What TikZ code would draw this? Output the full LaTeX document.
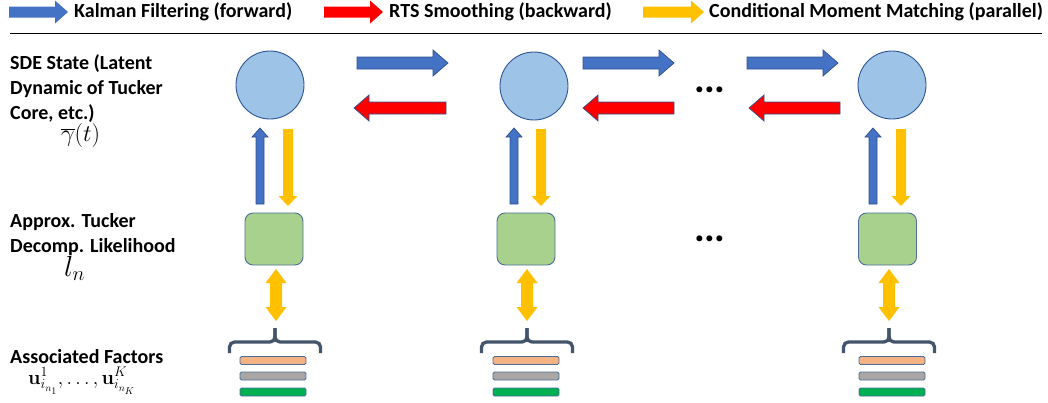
\RequirePackage{fix-cm}
\documentclass[tikz,border=0pt]{standalone}
\usepackage[no-math]{fontspec}
\setmainfont{Carlito}
\usetikzlibrary{calc}
\definecolor{kblue}{HTML}{4472C4}
\definecolor{kblueline}{HTML}{2F528F}
\definecolor{rred}{HTML}{FF0000}
\definecolor{myellow}{HTML}{FFC000}
\definecolor{circfill}{HTML}{9DC3E6}
\definecolor{circline}{HTML}{2F5597}
\definecolor{sqfill}{HTML}{A9D18E}
\definecolor{sqline}{HTML}{4E6E9A}
\definecolor{barorange}{HTML}{F4B183}
\definecolor{bargray}{HTML}{AAA6A6}
\definecolor{bargreen}{HTML}{00B050}
\definecolor{braceline}{HTML}{44546A}
% #1 style, #2 from, #3 to, #4 half shaft, #5 half head, #6 head length
\newcommand{\fatarrow}[6]{%
  \coordinate (fa-n) at ($(#3)!#6!(#2)$);
  \path[#1] ($(#2)!#4!90:(#3)$) -- ($(fa-n)!#4!-90:(#2)$) -- ($(fa-n)!#5!-90:(#2)$) -- (#3)
    -- ($(fa-n)!#5!90:(#2)$) -- ($(fa-n)!#4!90:(#2)$) -- ($(#2)!#4!-90:(#3)$) -- cycle;}
\newcommand{\dblarrow}[6]{%
  \coordinate (da-n1) at ($(#2)!#6!(#3)$);
  \coordinate (da-n2) at ($(#3)!#6!(#2)$);
  \path[#1] (#2) -- ($(da-n1)!#5!90:(#3)$) -- ($(da-n1)!#4!90:(#3)$) -- ($(da-n2)!#4!-90:(#2)$)
    -- ($(da-n2)!#5!-90:(#2)$) -- (#3) -- ($(da-n2)!#5!90:(#2)$) -- ($(da-n2)!#4!90:(#2)$)
    -- ($(da-n1)!#4!-90:(#3)$) -- ($(da-n1)!#5!-90:(#3)$) -- cycle;}
\tikzset{
  bluearr/.style={fill=kblue, draw=kblueline, line width=0.7pt},
  redarr/.style={fill=rred, draw=kblueline, line width=0.7pt},
  yelarr/.style={fill=myellow},
  circ/.style={circle, minimum size=68pt, inner sep=0, fill=circfill, draw=circline, line width=0.9pt},
  sq/.style={rectangle, rounded corners=8pt, minimum width=58pt, minimum height=52pt, inner sep=0, fill=sqfill, draw=sqline, line width=0.9pt},
  fbar/.style={rectangle, rounded corners=1.5pt, minimum width=66pt, minimum height=8pt, inner sep=0, draw=sqline, line width=0.8pt},
  brace/.style={draw=braceline, line width=3.3pt, rounded corners=5pt},
  lbl/.style={font=\bfseries\fontsize{20}{25}\selectfont, align=left, inner sep=0},
  leg/.style={font=\bfseries\fontsize{20}{22}\selectfont, inner sep=0, anchor=base west},
  dots/.style={font=\bfseries\fontsize{40}{40}\selectfont, inner sep=0}
}
\begin{document}
\begin{tikzpicture}[x=1pt,y=-1pt]
\useasboundingbox (0,0) rectangle (1048,402);
% legend
\coordinate (l1a) at (9,12); \coordinate (l1b) at (68,12);
\coordinate (l2a) at (324,12); \coordinate (l2b) at (383,12);
\coordinate (l3a) at (643,12); \coordinate (l3b) at (704,12);
\fatarrow{fill=kblue}{l1a}{l1b}{5.5pt}{11.5pt}{13pt}
\fatarrow{fill=rred}{l2a}{l2b}{5.5pt}{11.5pt}{13pt}
\fatarrow{fill=myellow}{l3a}{l3b}{5.5pt}{11.5pt}{13pt}
\node[leg] (t1) at (74,17.5) {Kalman Filtering (forward)};
\node[leg] (t2) at (389,17.5) {RTS Smoothing (backward)};
\node[leg] (t3) at (709,17.5) {Conditional Moment Matching (parallel)};
\coordinate (r1) at (10,33.5); \coordinate (r2) at (1042,33.5);
\draw[line width=1.5pt] (r1) -- (r2);
% left labels
\node[lbl, anchor=base west] (lab1) at (10,119) {SDE State (Latent\\Dynamic of Tucker\\Core, etc.)};
\node[inner sep=0, anchor=base west, font=\fontsize{24}{24}\selectfont] (m1) at (61,141) {$\overline{\gamma}(t)$};
\node[lbl, anchor=base west] (lab2) at (10,252) {Approx. Tucker\\Decomp. Likelihood};
\node[inner sep=0, anchor=base west, font=\fontsize{29}{29}\selectfont] (m2) at (64,276) {$l_n$};
\node[lbl, anchor=base west] (lab3) at (10,363) {Associated Factors};
\node[inner sep=0, anchor=base west, font=\fontsize{20}{20}\selectfont] (m3) at (28,384) {$\mathbf{u}^{1}_{i_{n_1}},\ldots,\mathbf{u}^{K}_{i_{n_K}}$};
% circles
\node[circ] (c1) at (270,85) {};
\node[circ] (c2) at (534,86) {};
\node[circ] (c3) at (892,85) {};
% squares
\node[sq] (s1) at (274,239) {};
\node[sq] (s2) at (526,239) {};
\node[sq] (s3) at (887.5,239) {};
% horizontal arrows
\coordinate (b1a) at (357,63); \coordinate (b1b) at (448,63);
\coordinate (b2a) at (583,63); \coordinate (b2b) at (674,63);
\coordinate (b3a) at (747,63); \coordinate (b3b) at (838,63);
\coordinate (q1a) at (446,108); \coordinate (q1b) at (354,108);
\coordinate (q2a) at (674,108); \coordinate (q2b) at (583,108);
\coordinate (q3a) at (840,108); \coordinate (q3b) at (749,108);
\fatarrow{bluearr}{b1a}{b1b}{6pt}{13pt}{15pt}
\fatarrow{bluearr}{b2a}{b2b}{6pt}{13pt}{15pt}
\fatarrow{bluearr}{b3a}{b3b}{6pt}{13pt}{15pt}
\fatarrow{redarr}{q1a}{q1b}{6pt}{13pt}{15pt}
\fatarrow{redarr}{q2a}{q2b}{6pt}{13pt}{15pt}
\fatarrow{redarr}{q3a}{q3b}{6pt}{13pt}{15pt}
% vertical arrows
\coordinate (u1a) at (260,204); \coordinate (u1b) at (260,128);
\coordinate (u2a) at (514,204); \coordinate (u2b) at (514,128);
\coordinate (u3a) at (873,204); \coordinate (u3b) at (873,128);
\coordinate (d1a) at (288,129); \coordinate (d1b) at (288,206);
\coordinate (d2a) at (541,129); \coordinate (d2b) at (541,206);
\coordinate (d3a) at (901,129); \coordinate (d3b) at (901,206);
\fatarrow{bluearr}{u1a}{u1b}{4pt}{8pt}{9pt}
\fatarrow{bluearr}{u2a}{u2b}{4pt}{8pt}{9pt}
\fatarrow{bluearr}{u3a}{u3b}{4pt}{8pt}{9pt}
\fatarrow{yelarr}{d1a}{d1b}{5pt}{9.5pt}{10pt}
\fatarrow{yelarr}{d2a}{d2b}{5pt}{9.5pt}{10pt}
\fatarrow{yelarr}{d3a}{d3b}{5pt}{9.5pt}{10pt}
% double arrows
\coordinate (v1a) at (276,269); \coordinate (v1b) at (276,321);
\coordinate (v2a) at (527,269); \coordinate (v2b) at (527,321);
\coordinate (v3a) at (889,269); \coordinate (v3b) at (889,321);
\dblarrow{yelarr}{v1a}{v1b}{6pt}{10.5pt}{14pt}
\dblarrow{yelarr}{v2a}{v2b}{6pt}{10.5pt}{14pt}
\dblarrow{yelarr}{v3a}{v3b}{6pt}{10.5pt}{14pt}
% braces
\draw[brace] (229.5,353) -- (229.5,342) -- (275,342) -- (275,328);
\draw[brace] (275,328) -- (275,342) -- (320.5,342) -- (320.5,353);
\draw[brace] (481.5,353) -- (481.5,342) -- (527,342) -- (527,328);
\draw[brace] (527,328) -- (527,342) -- (572.5,342) -- (572.5,353);
\draw[brace] (843.5,353) -- (843.5,342) -- (889,342) -- (889,328);
\draw[brace] (889,328) -- (889,342) -- (934.5,342) -- (934.5,353);
% factor bars
\node[fbar, fill=barorange] (f1a) at (273,360.5) {};
\node[fbar, fill=bargray] (f1b) at (273,376) {};
\node[fbar, fill=bargreen] (f1c) at (273,392) {};
\node[fbar, fill=barorange] (f2a) at (526,360.5) {};
\node[fbar, fill=bargray] (f2b) at (526,376) {};
\node[fbar, fill=bargreen] (f2c) at (526,392) {};
\node[fbar, fill=barorange] (f3a) at (892,360.5) {};
\node[fbar, fill=bargray] (f3b) at (892,376) {};
\node[fbar, fill=bargreen] (f3c) at (892,392) {};
% ellipses
\node[dots] (dt1) at (710,90) {.\kern-1pt.\kern-1pt.};
\node[dots] (dt2) at (710,239) {.\kern-1pt.\kern-1pt.};
\end{tikzpicture}
\end{document}
